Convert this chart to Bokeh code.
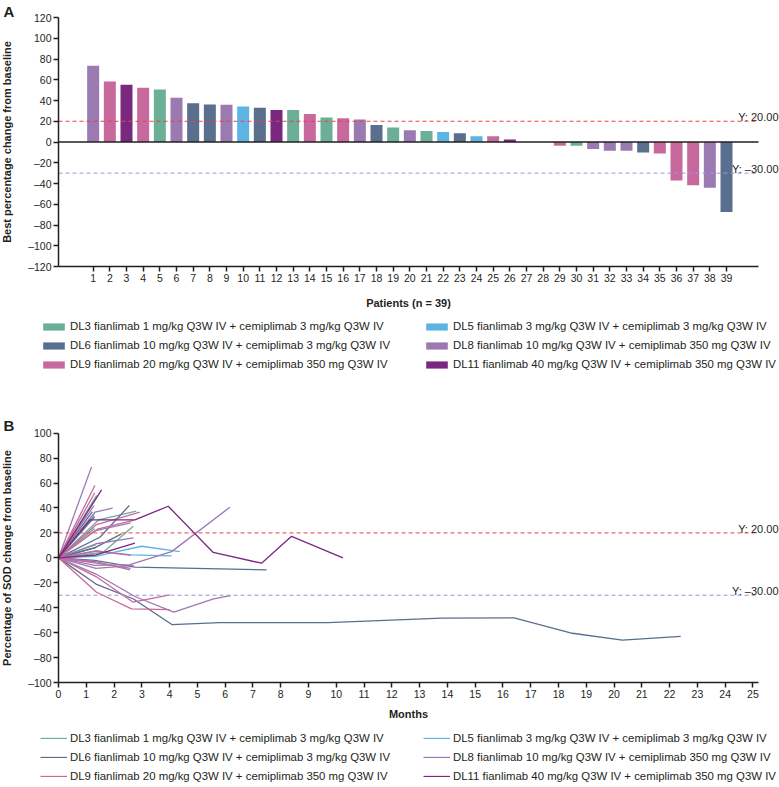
from bokeh.plotting import figure
from bokeh.models import (Range1d, FixedTicker, Label, Legend, LegendItem,
                          ColumnDataSource)
from bokeh.layouts import column
from bokeh.embed import file_html
from bokeh.resources import INLINE

FONT = "Liberation Sans"
INK = "#231f20"

# ---------------- data ----------------
arms = ["DL3", "DL5", "DL6", "DL8", "DL9", "DL11"]
arm_labels = [
    "DL3 fianlimab 1 mg/kg Q3W IV + cemiplimab 3 mg/kg Q3W IV",
    "DL5 fianlimab 3 mg/kg Q3W IV + cemiplimab 3 mg/kg Q3W IV",
    "DL6 fianlimab 10 mg/kg Q3W IV + cemiplimab 3 mg/kg Q3W IV",
    "DL8 fianlimab 10 mg/kg Q3W IV + cemiplimab 350 mg Q3W IV",
    "DL9 fianlimab 20 mg/kg Q3W IV + cemiplimab 350 mg Q3W IV",
    "DL11 fianlimab 40 mg/kg Q3W IV + cemiplimab 350 mg Q3W IV",
]
arm_colors = ["#6aaf96", "#5db4e2", "#5a6e8d", "#9b79b1", "#c7699d", "#7a287f"]

patients = list(range(1, 40))
best_change = [73.5, 58.4, 55.2, 52.3, 50.6, 42.6, 37.4, 36.1, 35.8, 34.2,
               32.9, 30.8, 30.8, 27.0, 23.5, 22.9, 21.6, 16.5, 14.0, 11.3,
               10.6, 9.7, 8.4, 5.5, 5.5, 2.3, 0.0, 0.0, -3.5, -3.5,
               -6.8, -8.4, -8.4, -10.0, -11.0, -37.0, -41.6, -44.0, -67.4]
patient_arm = ["DL8", "DL9", "DL11", "DL9", "DL3", "DL8", "DL6", "DL6", "DL8", "DL5",
               "DL6", "DL11", "DL3", "DL9", "DL3", "DL9", "DL8", "DL6", "DL3", "DL8",
               "DL3", "DL5", "DL6", "DL5", "DL9", "DL11", "DL8", "DL3", "DL9", "DL3",
               "DL8", "DL8", "DL8", "DL6", "DL9", "DL9", "DL9", "DL8", "DL6"]

a_yticks = [-120, -100, -80, -60, -40, -20, 0, 20, 40, 60, 80, 100, 120]
a_ytick_labels = ["–120", "–100", "–80", "–60", "–40", "–20", "0", "20", "40", "60",
                  "80", "100", "120"]

# Panel B: SOD change over time, one line per patient
sod_arm = ["DL3", "DL3", "DL3", "DL3", "DL3", "DL3",
           "DL5", "DL5", "DL5",
           "DL6", "DL6", "DL6", "DL6", "DL6", "DL6", "DL6",
           "DL8", "DL8", "DL8", "DL8", "DL8", "DL8", "DL8", "DL8", "DL8",
           "DL9", "DL9", "DL9", "DL9", "DL9", "DL9", "DL9", "DL9", "DL9",
           "DL11", "DL11", "DL11"]
sod_months = [
    [0, 1.37], [0, 1.45, 2.8], [0, 1.3], [0, 1.61, 2.69], [0, 1.35], [0, 1.35],
    [0, 1.28], [0, 1.37, 2.99, 4.37], [0, 1.37, 2.63, 4.07],
    [0, 1.22], [0, 1.3], [0, 1.49, 2.55], [0, 1.3, 2.27], [0, 1.35],
    [0, 1.3, 2.75, 7.49],
    [0, 1.35, 2.7, 4.08, 5.8, 9.7, 13.8, 16.4, 18.5, 20.3, 22.4],
    [0, 1.19], [0, 1.28], [0, 1.31, 1.95], [0, 1.3, 2.6], [0, 1.35, 2.7],
    [0, 1.3, 2.57, 4.07, 6.17], [0, 1.35, 2.7], [0, 1.3, 2.6],
    [0, 1.35, 2.75, 4.15, 5.58, 6.2],
    [0, 1.31], [0, 1.3], [0, 1.37, 2.93], [0, 1.4, 2.7], [0, 1.35, 2.6], [0, 1.3],
    [0, 1.35, 2.57], [0, 1.35, 2.69, 4.01], [0, 1.37, 2.63, 4.01],
    [0, 1.55], [0, 1.13, 2.75, 3.95, 5.57, 7.31, 8.39, 10.24], [0, 1.35, 2.75],
]
sod_change = [
    [0, 50], [0, 30.5, 37.4], [0, 23.5], [0, 4.5, 25.4], [0, 10.6], [0, -3.5],
    [0, 34], [0, 1.3, 9.3, 5], [0, 5.5, 2.4, 1.6],
    [0, 37], [0, 33], [0, 16.5, 42], [0, 8, 19.2], [0, 8.4],
    [0, -2, -7.5, -9.6],
    [0, -21, -33, -53.5, -52, -52, -48.3, -48.2, -60.5, -66, -63],
    [0, 73], [0, 42], [0, 36.6, 39.8], [0, 21.6, 28], [0, 11.3, 16],
    [0, -6, -5.4, 5, 40.6], [0, -8.4, -6], [0, -4, -8.4],
    [0, -13, -31, -43.5, -32.9, -30.3],
    [0, 58], [0, 52], [0, 26.7, 36.6], [0, 23, 30], [0, 5.5, 2], [0, -3.5],
    [0, -3, -9.7], [0, -15, -35.6, -29.7], [0, -27.6, -41, -41.5],
    [0, 54.6], [0, 30.5, 30.5, 41.4, 4.3, -4.3, 17.3, 0], [0, 2.3, 11.8],
]
b_xticks = list(range(0, 26))
b_yticks = [-100, -80, -60, -40, -20, 0, 20, 40, 60, 80, 100]
b_ytick_labels = ["–100", "–80", "–60", "–40", "–20", "0", "20", "40", "60", "80", "100"]

ref_upper = 20
ref_lower = -30

color_of = dict(zip(arms, arm_colors))

# ---------------- layout constants (pixels) ----------------
FIG_W = 779
AX_LEFT = 58          # y axis position from figure left
FRAME_W = 700         # axis length


def make_fig(height, xlo, xhi, ylo, yhi, top_px, axis_h):
    """Figure whose plotting frame fills the canvas; axes are placed by bounds."""
    xppu = FRAME_W / (xhi - xlo)
    yppu = axis_h / (yhi - ylo)
    x_range = Range1d(xlo - AX_LEFT / xppu, xhi + (FIG_W - AX_LEFT - FRAME_W) / xppu)
    y_range = Range1d(ylo - (height - top_px - axis_h) / yppu, yhi + top_px / yppu)
    p = figure(width=FIG_W, height=height, output_backend="svg", toolbar_location=None,
               x_range=x_range, y_range=y_range, min_border=0,
               min_border_left=0, min_border_right=0, min_border_top=0,
               min_border_bottom=0)
    p.outline_line_color = None
    p.xgrid.grid_line_color = None
    p.ygrid.grid_line_color = None
    return p


def style_axes(p, xlo, xhi, ylo, yhi, xlabel, ylabel, xlabel_standoff):
    p.xaxis[0].fixed_location = ylo
    p.yaxis[0].fixed_location = xlo
    p.xaxis[0].bounds = (xlo, xhi)
    p.yaxis[0].bounds = (ylo, yhi)
    for ax in (p.xaxis[0], p.yaxis[0]):
        ax.axis_line_color = INK
        ax.axis_line_width = 1.5
        ax.major_tick_line_color = INK
        ax.major_tick_line_width = 1.5
        ax.major_tick_out = 5
        ax.major_tick_in = 0
        ax.minor_tick_line_color = None
        ax.major_label_text_font = FONT
        ax.major_label_text_font_size = "10.5px"
        ax.major_label_text_color = INK
        ax.major_label_standoff = 2
        ax.axis_label_text_font = FONT
        ax.axis_label_text_font_style = "bold"
        ax.axis_label_text_font_size = "11px"
        ax.axis_label_text_color = INK
    p.xaxis[0].axis_label = xlabel
    p.yaxis[0].axis_label = ylabel
    p.xaxis[0].axis_label_standoff = xlabel_standoff
    p.yaxis[0].axis_label_standoff = 12


def add_refs(p, xlo, xhi):
    p.segment(x0=[xlo, xlo], x1=[xhi, xhi], y0=[ref_upper, ref_lower],
              y1=[ref_upper, ref_lower], line_color=["#e8424b", "#9696e0"],
              line_width=1, line_dash="4 3")
    for v in (ref_upper, ref_lower):
        txt = ("Y: %.2f" % v).replace("-", "–")
        p.add_layout(Label(x=xhi, y=v, x_offset=20, y_offset=4, text=txt,
                           text_align="right", text_baseline="alphabetic",
                           text_font=FONT, text_font_size="11px", text_color=INK))


def make_legends(p, renderer, index_of, y_loc, glyph_h):
    items = [LegendItem(label=lab, renderers=[renderer], index=index_of[a])
             for a, lab in zip(arms, arm_labels)]
    cols = [[items[0], items[2], items[4]], [items[1], items[3], items[5]]]
    for its, x_loc in zip(cols, (40, 423)):
        leg = Legend(items=its, location=(x_loc, y_loc))
        leg.border_line_color = None
        leg.background_fill_alpha = 0
        leg.padding = 0
        leg.margin = 0
        leg.spacing = 6
        leg.glyph_width = 27
        leg.glyph_height = glyph_h
        leg.label_standoff = 3
        leg.label_height = 13
        leg.label_text_font = FONT
        leg.label_text_font_size = "11.4px"
        leg.label_text_color = INK
        p.add_layout(leg)


# ---------------- Panel A ----------------
A_H = 372
a_xlo, a_xhi = -1.08, 40.92
pa = make_fig(A_H, a_xlo, a_xhi, -120, 120, top_px=17, axis_h=249)
src_a = ColumnDataSource(dict(patient=patients, change=best_change, arm=patient_arm,
                              color=[color_of[a] for a in patient_arm]))
bars = pa.vbar(x="patient", top="change", bottom=0, width=0.72, fill_color="color",
               line_color=None, source=src_a)
pa.segment(x0=[a_xlo], x1=[a_xhi], y0=[0], y1=[0], line_color=INK, line_width=1.5)
add_refs(pa, a_xlo, a_xhi)
style_axes(pa, a_xlo, a_xhi, -120, 120, "Patients (n = 39)",
           "Best percentage change from baseline", 12)
pa.xaxis[0].ticker = FixedTicker(ticks=patients)
pa.yaxis[0].ticker = FixedTicker(ticks=a_yticks)
pa.yaxis[0].major_label_overrides = {t: l for t, l in zip(a_yticks, a_ytick_labels)}
make_legends(pa, bars, {a: patient_arm.index(a) for a in arms}, 1.5, 9)
pa.add_layout(Label(x=3, y=A_H - 2, x_units="screen", y_units="screen", text="A",
                    text_font=FONT, text_font_style="bold", text_font_size="15px",
                    text_baseline="top", text_align="left", text_color=INK))

# ---------------- Panel B ----------------
B_H = 415
b_xlo, b_xhi = 0, 25.2
pb = make_fig(B_H, b_xlo, b_xhi, -100, 100, top_px=60.7, axis_h=249.3)
src_b = ColumnDataSource(dict(xs=sod_months, ys=sod_change, arm=sod_arm,
                              color=[color_of[a] for a in sod_arm]))
lines = pb.multi_line(xs="xs", ys="ys", line_color="color", line_width=1.3, source=src_b)
add_refs(pb, b_xlo, b_xhi)
style_axes(pb, b_xlo, b_xhi, -100, 100, "Months",
           "Percentage of SOD change from baseline", 7)
pb.xaxis[0].ticker = FixedTicker(ticks=b_xticks)
pb.yaxis[0].ticker = FixedTicker(ticks=b_yticks)
pb.yaxis[0].major_label_overrides = {t: l for t, l in zip(b_yticks, b_ytick_labels)}
make_legends(pb, lines, {a: sod_arm.index(a) for a in arms}, 4.5, 2)
pb.add_layout(Label(x=3, y=B_H - 44, x_units="screen", y_units="screen", text="B",
                    text_font=FONT, text_font_style="bold", text_font_size="15px",
                    text_baseline="top", text_align="left", text_color=INK))

layout = column(pa, pb, spacing=0)
open("out.html", "w").write(file_html(layout, INLINE))
